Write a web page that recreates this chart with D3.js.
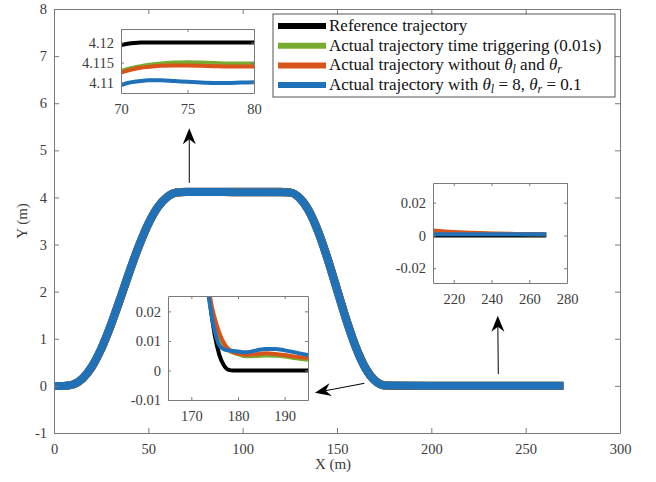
<!DOCTYPE html>
<html>
<head>
<meta charset="utf-8">
<script src="https://cdn.jsdelivr.net/npm/d3@7"></script>
<style>
  body { margin: 0; background: #fff; }
  svg { display: block; }
  svg text { font-family: 'Liberation Serif'; }
</style>
</head>
<body>
<script>
/**********************
 ***      Data      ***
 **********************/

// main plot (x in m, y in m)
const mainX = [0, 5, 10, 15, 20, 25, 30, 35, 40, 45, 50, 55, 60, 65, 70, 80, 90, 100, 110, 120,
  125, 130, 135, 140, 145, 150, 155, 160, 165, 170, 175, 180, 200, 220, 240, 260, 270];
const refY = [0, 0.0001, 0.027, 0.146, 0.394, 0.774, 1.265, 1.826, 2.409, 2.960, 3.432, 3.786, 4.007, 4.104, 4.12,
  4.12, 4.12, 4.12, 4.12, 4.12,
  4.108, 4.000, 3.730, 3.290, 2.713, 2.060, 1.407, 0.830, 0.390, 0.120, 0.012, 0, 0, 0, 0, 0, 0];
const actY = [0, 0.0002, 0.030, 0.153, 0.407, 0.792, 1.286, 1.849, 2.432, 2.981, 3.449, 3.798, 4.013, 4.106, 4.115,
  4.114, 4.113, 4.112, 4.111, 4.110,
  4.105, 3.993, 3.716, 3.269, 2.688, 2.033, 1.382, 0.809, 0.376, 0.113, 0.010, 0.006, 0.005, 0.003, 0.002, 0.001, 0.001];

// zoom 1: x 70..80
const zoom1X = [70, 70.5, 71, 71.5, 72, 73, 74, 75, 76, 77, 78, 79, 80];
const zoom1Ref = [4.1194, 4.1197, 4.1199, 4.12, 4.12, 4.12, 4.12, 4.12, 4.12, 4.12, 4.12, 4.12, 4.12];
const zoom1Time = [4.1129, 4.1134, 4.1138, 4.1141, 4.1144, 4.1148, 4.1150, 4.1151, 4.1150, 4.1149, 4.1148, 4.1148, 4.1148];
const zoom1Without = [4.1125, 4.1130, 4.1134, 4.1137, 4.1139, 4.1142, 4.1143, 4.1143, 4.1142, 4.1141, 4.1140, 4.1140, 4.1140];
const zoom1With = [4.1094, 4.1099, 4.1102, 4.1104, 4.1106, 4.1106, 4.1104, 4.1102, 4.1100, 4.1099, 4.1099, 4.1100, 4.1101];

// zoom 2: x 209..269
const zoom2X = [209, 220, 230, 240, 250, 260, 269];
const zoom2Ref = [0, 0, 0, 0, 0, 0, 0];
const zoom2Time = [0.0025, 0.0018, 0.0014, 0.0011, 0.0009, 0.0008, 0.0007];
const zoom2Without = [0.0030, 0.0021, 0.0016, 0.0012, 0.0010, 0.0009, 0.0008];
const zoom2With = [0.0007, 0.0007, 0.0007, 0.0007, 0.0007, 0.0007, 0.0007];

// zoom 3: x 165..195
const zoom3X = [165, 172, 173, 174, 175, 176, 177, 178, 179, 180, 181, 182, 184, 186, 188, 190, 192, 195];
const zoom3Ref = [0.30, 0.060, 0.039, 0.023, 0.0121, 0.0053, 0.0017, 0.0002, 0, 0, 0, 0, 0, 0, 0, 0, 0, 0];
const zoom3Time = [0.30, 0.058, 0.038, 0.024, 0.017, 0.012, 0.0085, 0.0068, 0.0060, 0.0055, 0.0050, 0.0048, 0.0049, 0.0051, 0.0050, 0.0047, 0.0042, 0.0036];
const zoom3Without = [0.30, 0.060, 0.040, 0.025, 0.0178, 0.0127, 0.0092, 0.0072, 0.0062, 0.0057, 0.0054, 0.0053, 0.0055, 0.0058, 0.0056, 0.0052, 0.0047, 0.0042];
const zoom3With = [0.30, 0.055, 0.035, 0.022, 0.0135, 0.0085, 0.0071, 0.0068, 0.0066, 0.0064, 0.0062, 0.0062, 0.0068, 0.0073, 0.0073, 0.0068, 0.0062, 0.0052];

const mainXTicks = [0, 50, 100, 150, 200, 250, 300];
const mainYTicks = [-1, 0, 1, 2, 3, 4, 5, 6, 7, 8];

const legendLabels = [
  [['Reference trajectory', '']],
  [['Actual trajectory time triggering (0.01s)', '']],
  [['Actual trajectory without ', ''], ['θ', 'i'], ['l', 'sub'], [' and ', ''], ['θ', 'i'], ['r', 'sub']],
  [['Actual trajectory with ', ''], ['θ', 'i'], ['l', 'sub'], [' = 8, ', ''], ['θ', 'i'], ['r', 'sub'], [' = 0.1', '']]
];

// arrows: [from, to] in main data units
const arrows = [
  [[71.7, 4.31], [71.7, 5.47]],
  [[164.5, 0.055], [138.3, -0.145]],
  [[235.5, 0.25], [235.2, 1.49]]
];

/**********************
 ***    Constants   ***
 **********************/
const WIDTH = 656, HEIGHT = 482;
const FONT = 'Liberation Serif';
const AXIS_COLOR = '#7a7a7a';
const TEXT_COLOR = '#3c3c3c';
const COLORS = { ref: '#000000', time: '#77ac30', without: '#d9541a', with: '#1f72b8' };

const MAIN = { left: 54, right: 620, top: 9, bottom: 433 };
const INSETS = [
  { left: 121, right: 254, top: 29, bottom: 93, xDomain: [70, 80], yDomain: [4.1074, 4.1234],
    xTicks: [70, 75, 80], yTicks: [4.11, 4.115, 4.12],
    xs: zoom1X, series: [zoom1Ref, zoom1Time, zoom1Without, zoom1With] },
  { left: 433, right: 567, top: 183, bottom: 283, xDomain: [209, 280], yDomain: [-0.029, 0.032],
    xTicks: [220, 240, 260, 280], yTicks: [-0.02, 0, 0.02],
    xs: zoom2X, series: [zoom2Ref, zoom2Time, zoom2Without, zoom2With] },
  { left: 168, right: 308, top: 296, bottom: 400, xDomain: [165, 195], yDomain: [-0.01, 0.0252],
    xTicks: [170, 180, 190], yTicks: [-0.01, 0, 0.01, 0.02],
    xs: zoom3X, series: [zoom3Ref, zoom3Time, zoom3Without, zoom3With] }
];
const seriesColors = [COLORS.ref, COLORS.time, COLORS.without, COLORS.with];

/**********************
 ***     Helpers    ***
 **********************/
const svg = d3.select('body').append('svg')
  .attr('width', WIDTH)
  .attr('height', HEIGHT);

const defs = svg.append('defs');

function styleAxis(g) {
  g.attr('font-family', FONT).attr('font-size', 14.5);
  g.selectAll('.domain').attr('stroke', AXIS_COLOR).attr('stroke-width', 1);
  g.selectAll('.tick line').attr('stroke', AXIS_COLOR);
  g.selectAll('.tick text')
    .style('font-family', FONT)
    .style('font-size', '14.5px')
    .attr('fill', TEXT_COLOR);
}

// MATLAB-like boxed axes, ticks pointing inward on all sides
function drawFrame(g, xs, ys, xTicks, yTicks, tickLen) {
  const [x0, x1] = xs.range();
  const [y0, y1] = ys.range();
  const fmt = d => String(d);

  g.append('g').attr('transform', `translate(0,${y0})`)
    .call(d3.axisBottom(xs).tickValues(xTicks).tickSizeInner(-tickLen).tickSizeOuter(0).tickPadding(11).tickFormat(fmt))
    .call(styleAxis);
  g.append('g').attr('transform', `translate(0,${y1})`)
    .call(d3.axisTop(xs).tickValues(xTicks).tickSizeInner(-tickLen).tickSizeOuter(0).tickFormat(''))
    .call(styleAxis);
  g.append('g').attr('transform', `translate(${x0},0)`)
    .call(d3.axisLeft(ys).tickValues(yTicks).tickSizeInner(-tickLen).tickSizeOuter(0).tickPadding(7).tickFormat(fmt))
    .call(styleAxis);
  g.append('g').attr('transform', `translate(${x1},0)`)
    .call(d3.axisRight(ys).tickValues(yTicks).tickSizeInner(-tickLen).tickSizeOuter(0).tickFormat(''))
    .call(styleAxis);
}

function drawSeries(g, xs, ys, xVals, yVals, color, width, clipId) {
  const line = d3.line()
    .x((d, i) => xs(xVals[i]))
    .y(d => ys(d))
    .curve(d3.curveMonotoneX);
  g.append('path')
    .datum(yVals)
    .attr('clip-path', `url(#${clipId})`)
    .attr('d', line)
    .attr('fill', 'none')
    .attr('stroke', color)
    .attr('stroke-width', width)
    .attr('stroke-linejoin', 'round');
}

function addClip(id, box) {
  defs.append('clipPath').attr('id', id)
    .append('rect')
    .attr('x', box.left).attr('y', box.top)
    .attr('width', box.right - box.left).attr('height', box.bottom - box.top);
}

/**********************
 ***    Main plot   ***
 **********************/
const x = d3.scaleLinear().domain([0, 300]).range([MAIN.left, MAIN.right]);
const y = d3.scaleLinear().domain([-1, 8]).range([MAIN.bottom, MAIN.top]);

addClip('clip-main', MAIN);
const mainG = svg.append('g');

drawSeries(mainG, x, y, mainX, refY, COLORS.ref, 8, 'clip-main');
drawSeries(mainG, x, y, mainX, actY, COLORS.time, 8, 'clip-main');
drawSeries(mainG, x, y, mainX, actY, COLORS.without, 8, 'clip-main');
drawSeries(mainG, x, y, mainX, actY, COLORS.with, 8, 'clip-main');

drawFrame(mainG, x, y, mainXTicks, mainYTicks, 5);

svg.append('text')
  .attr('x', 333).attr('y', 469)
  .attr('text-anchor', 'middle')
  .style('font-family', FONT).style('font-size', '15px')
  .attr('fill', TEXT_COLOR)
  .text('X (m)');

svg.append('text')
  .attr('transform', `translate(27,${(MAIN.top + MAIN.bottom) / 2}) rotate(-90)`)
  .attr('text-anchor', 'middle')
  .style('font-family', FONT).style('font-size', '15px')
  .attr('fill', TEXT_COLOR)
  .text('Y (m)');

/**********************
 ***     Arrows     ***
 **********************/
const arrowG = svg.append('g');
arrows.forEach(([from, to]) => {
  const x1 = x(from[0]), y1 = y(from[1]), x2 = x(to[0]), y2 = y(to[1]);
  const ang = Math.atan2(y2 - y1, x2 - x1);
  const L = 16, W = 6.5, N = 11;
  const pt = (back, side) => [
    x2 - back * Math.cos(ang) - side * Math.sin(ang),
    y2 - back * Math.sin(ang) + side * Math.cos(ang)
  ];
  const shaftEnd = pt(N, 0);
  arrowG.append('line')
    .attr('x1', x1).attr('y1', y1).attr('x2', shaftEnd[0]).attr('y2', shaftEnd[1])
    .attr('stroke', '#000').attr('stroke-width', 1);
  arrowG.append('polygon')
    .attr('points', [[x2, y2], pt(L, W), pt(N, 0), pt(L, -W)].map(p => p.join(',')).join(' '))
    .attr('fill', '#000');
});

/**********************
 ***     Insets     ***
 **********************/
INSETS.forEach((ins, k) => {
  const xs = d3.scaleLinear().domain(ins.xDomain).range([ins.left, ins.right]);
  const ys = d3.scaleLinear().domain(ins.yDomain).range([ins.bottom, ins.top]);
  const clipId = `clip-inset-${k}`;
  addClip(clipId, ins);

  const g = svg.append('g');
  g.append('rect')
    .attr('x', ins.left).attr('y', ins.top)
    .attr('width', ins.right - ins.left).attr('height', ins.bottom - ins.top)
    .attr('fill', '#fff');

  ins.series.forEach((vals, i) => drawSeries(g, xs, ys, ins.xs, vals, seriesColors[i], 4, clipId));
  drawFrame(g, xs, ys, ins.xTicks, ins.yTicks, 3);
});

/**********************
 ***     Legend     ***
 **********************/
const LEG = { left: 273, right: 615, top: 14, bottom: 97, lineX0: 278, lineX1: 326, textX: 329, row0: 26, rowStep: 19.7 };
const legendG = svg.append('g');
legendG.append('rect')
  .attr('x', LEG.left).attr('y', LEG.top)
  .attr('width', LEG.right - LEG.left).attr('height', LEG.bottom - LEG.top)
  .attr('fill', '#fff').attr('stroke', '#555').attr('stroke-width', 1);

legendLabels.forEach((parts, i) => {
  const ry = LEG.row0 + i * LEG.rowStep;
  legendG.append('line')
    .attr('x1', LEG.lineX0).attr('x2', LEG.lineX1).attr('y1', ry).attr('y2', ry)
    .attr('stroke', seriesColors[i]).attr('stroke-width', 6);

  const t = legendG.append('text')
    .attr('x', LEG.textX).attr('y', ry + 5)
    .style('font-family', FONT).style('font-size', '17px')
    .attr('fill', '#111');
  let shifted = false;
  parts.forEach(([str, style]) => {
    const sp = t.append('tspan').text(str);
    if (style === 'i') sp.style('font-style', 'italic');
    if (style === 'sub') {
      sp.style('font-style', 'italic').style('font-size', '12px').attr('dy', 3);
      shifted = true;
    } else if (shifted) {
      sp.attr('dy', -3);
      shifted = false;
    }
  });
});
</script>
</body>
</html>
